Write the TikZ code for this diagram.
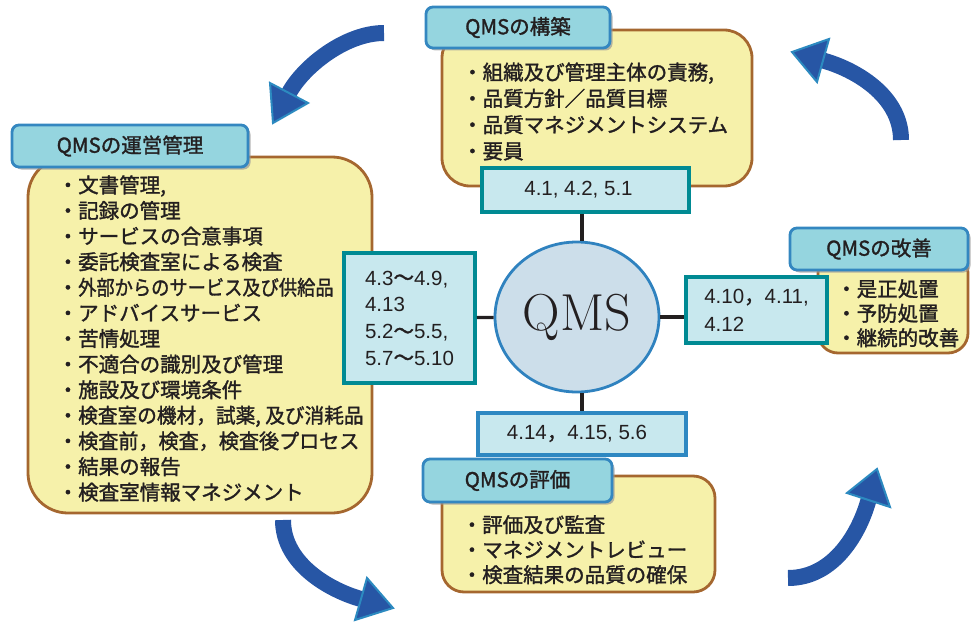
\documentclass[tikz,border=0pt]{standalone}
\usepackage{fontspec}
\usepackage{graphicx}
\newfontfamily\jp[FakeBold=1.5]{Noto Sans CJK JP}
\newfontfamily\numf{Liberation Sans}
\usetikzlibrary{shapes.geometric,shadows}
\definecolor{ybfill}{HTML}{F6F1AA}
\definecolor{ybdraw}{HTML}{A5672F}
\definecolor{tabfill}{HTML}{95D5DF}
\definecolor{tabdraw}{HTML}{3487C0}
\definecolor{reffill}{HTML}{C8E8EE}
\definecolor{refdraw}{HTML}{008A93}
\definecolor{refdrawb}{HTML}{2E88C2}
\definecolor{circfill}{HTML}{CCDEEA}
\definecolor{circdraw}{HTML}{2F82BF}
\definecolor{arrfill}{HTML}{2756A5}
\definecolor{arrdraw}{HTML}{2C8AC0}
\definecolor{lnk}{HTML}{231F20}
\definecolor{txt}{HTML}{231F20}
\begin{document}
\begin{tikzpicture}[x=1pt,y=-1pt,
  ybox/.style={draw=ybdraw, line width=2.8pt, fill=ybfill, inner sep=0pt},
  tab/.style={draw=tabdraw, line width=2.8pt, fill=tabfill, rounded corners=7pt, inner sep=0pt,
    font=\jp\fontsize{20.5}{24}\selectfont, text=txt,
    drop shadow={shadow xshift=2.5pt, shadow yshift=-2.5pt, fill=black!40, opacity=0.7}},
  refbox/.style={draw=refdraw, line width=3.5pt, fill=reffill, inner sep=0pt,
    font=\numf\fontsize{20.5}{24}\selectfont, text=txt},
  items/.style={inner sep=0pt, align=left, anchor=west, text=txt},
  link/.style={draw=lnk, line width=3.2pt},
  shaft/.style={draw=arrfill, line width=16pt},
  head/.style={fill=arrfill, draw=arrdraw, line width=2pt, line join=miter},
]
\useasboundingbox (0,0) rectangle (971,623);

% yellow content boxes
\node[ybox, rounded corners=28pt, minimum width=310pt, minimum height=156pt] (buildbox) at (597,108) {};
\node[ybox, rounded corners=40pt, minimum width=344pt, minimum height=356pt] (opbox) at (200,335) {};
\node[ybox, rounded corners=20pt, minimum width=150pt, minimum height=100pt] (impbox) at (893,303) {};
\node[ybox, rounded corners=22pt, minimum width=273pt, minimum height=116pt] (evalbox) at (578.5,534) {};

% title tabs
\node[tab, minimum width=184pt, minimum height=41pt] (buildtab) at (518,27.5) {QMSの構築};
\node[tab, minimum width=236pt, minimum height=42pt] (optab) at (130,146) {QMSの運営管理};
\node[tab, minimum width=178pt, minimum height=42pt] (imptab) at (879,249) {QMSの改善};
\node[tab, minimum width=189pt, minimum height=43pt] (evaltab) at (517.5,480.5) {QMSの評価};

% item lists
\node[items, font=\jp\fontsize{20.5}{26.3}\selectfont] (builditems) at (462,111.5)
  {・組織及び管理主体の責務,\\・品質方針／品質目標\\・品質マネジメントシステム\\・要員};
\node[items, font=\jp\fontsize{20.5}{25.6}\selectfont] (opitems) at (57.5,338.5)
  {・文書管理,\\・記録の管理\\・サービスの合意事項\\・委託検査室による検査\\・\scalebox{0.89}[1]{外部からのサービス及び供給品}\\・アドバイスサービス\\・苦情処理\\・不適合の識別及び管理\\・施設及び環境条件\\・\scalebox{0.96}[1]{検査室の機材，試薬, 及び消耗品}\\・\scalebox{0.98}[1]{検査前，検査，検査後プロセス}\\・結果の報告\\・検査室情報マネジメント};
\node[items, font=\jp\fontsize{20.5}{24.5}\selectfont] (impitems) at (836,313.3)
  {・是正処置\\・予防処置\\・継続的改善};
\node[items, font=\jp\fontsize{20.5}{25}\selectfont] (evalitems) at (461.5,549.7)
  {・評価及び監査\\・マネジメントレビュー\\・検査結果の品質の確保};

% reference boxes
\node[refbox, minimum width=207pt, minimum height=44pt] (buildref) at (585.5,190) {4.1, 4.2, 5.1\hspace*{14pt}};
\node[refbox, minimum width=131pt, minimum height=130pt, align=left,
  font=\numf\fontsize{20.5}{26.7}\selectfont] (opref) at (409.5,318)
  {4.3{\jp 〜}4.9,\\4.13\\5.2{\jp 〜}5.5,\\5.7{\jp 〜}5.10};
\node[refbox, minimum width=141pt, minimum height=66pt, align=left,
  font=\numf\fontsize{20.5}{28}\selectfont] (impref) at (756.5,310)
  {4.10{\jp ，}4.11,\\4.12};
\node[refbox, draw=refdrawb, minimum width=208pt, minimum height=42pt] (evalref) at (582,434)
  {4.14{\jp ，}4.15, 5.6\hspace*{10pt}};

% centre
\node[ellipse, draw=circdraw, line width=2.8pt, fill=circfill, minimum width=164pt,
  minimum height=150pt, inner sep=0pt, text=txt, font=\rmfamily\fontsize{52}{54}\selectfont] (qms) at (577,317) {QMS};

% connectors
\coordinate (vx) at (582,0);
\draw[link] (buildref.south -| vx) -- (qms.north -| vx);
\draw[link] (qms.south -| vx) -- (evalref.north -| vx);
\draw[link] (opref) -- (qms);
\draw[link] (qms.east) -- (qms.east -| impref.west);

% cycle arrows
\coordinate (a1s) at (384,33);  \coordinate (a1e) at (289,93);
\draw[shaft] (a1s) .. controls (345,33) and (303,67) .. (a1e);
\filldraw[head] (270,83) -- (273,123) -- (308,103) -- cycle;

\coordinate (a2s) at (283,520); \coordinate (a2e) at (361,599);
\draw[shaft] (a2s) .. controls (283,565) and (332,591) .. (a2e);
\filldraw[head] (367,578) -- (393,608) -- (355,620) -- cycle;

\coordinate (a3s) at (788,578); \coordinate (a3e) at (868.5,500);
\draw[shaft] (a3s) .. controls (835,578) and (860,531) .. (a3e);
\filldraw[head] (847,493) -- (877,469) -- (890,507) -- cycle;

\coordinate (a4s) at (901,140); \coordinate (a4e) at (823,60.5);
\draw[shaft] (a4s) .. controls (901,95) and (854,69) .. (a4e);
\filldraw[head] (792,52) -- (829,39) -- (817,82) -- cycle;
\end{tikzpicture}
\end{document}
